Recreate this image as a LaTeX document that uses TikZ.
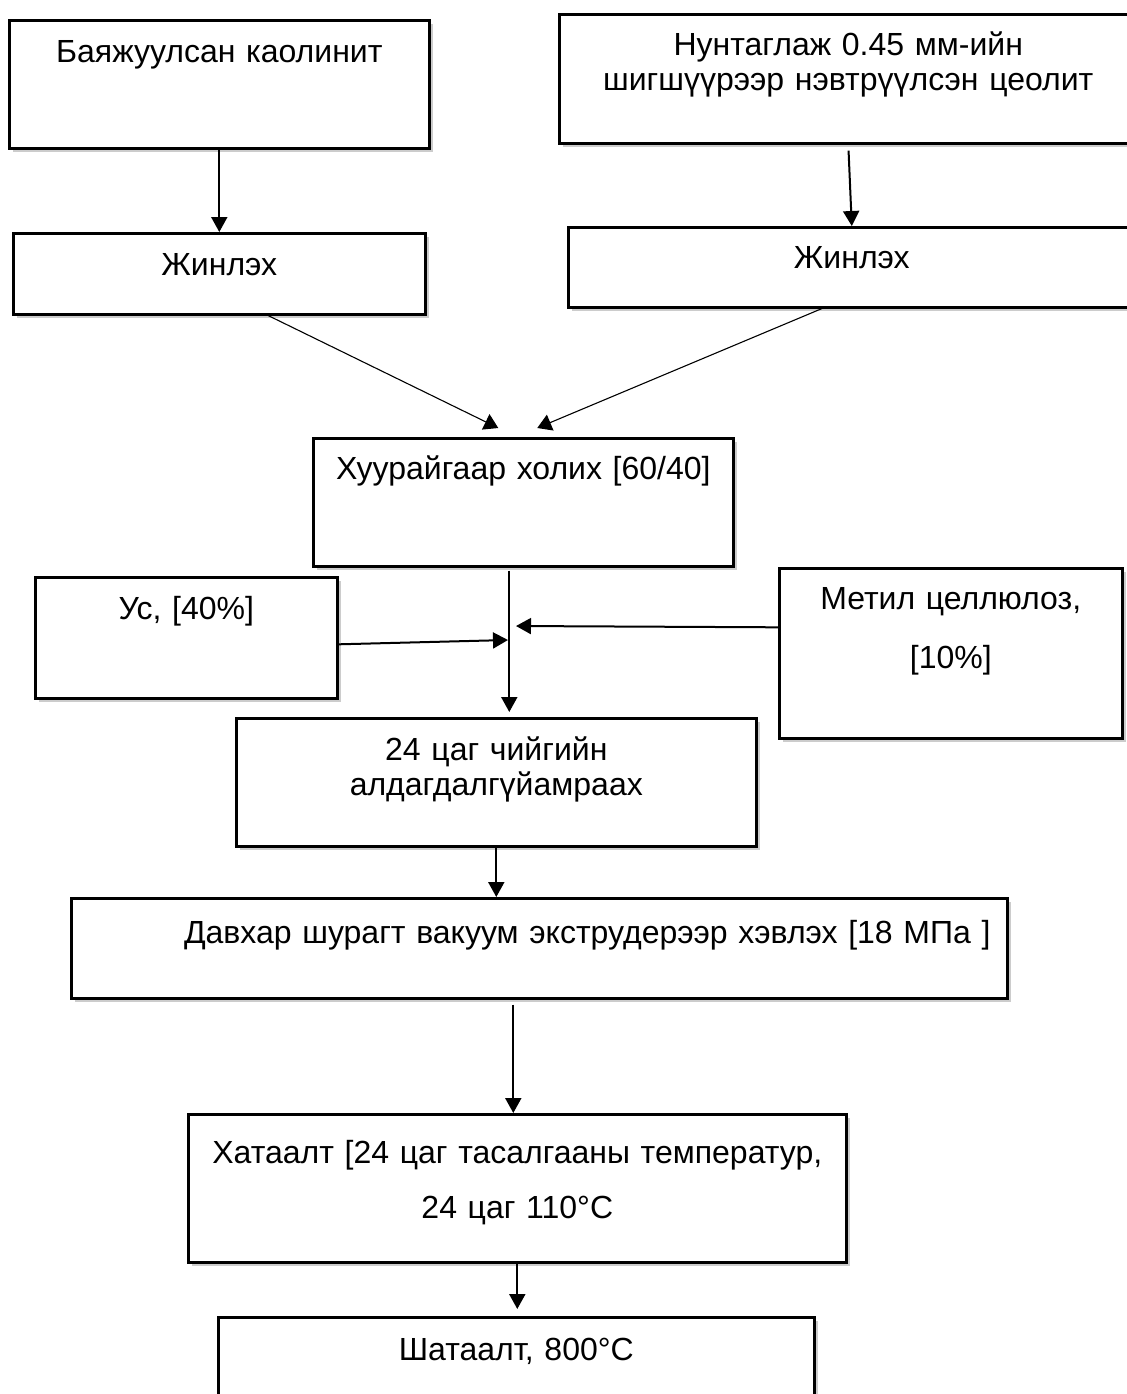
\documentclass[tikz,border=0pt]{standalone}
\usepackage{fontspec}
\setmainfont{Liberation Sans}
\usetikzlibrary{arrows.meta,shadows}
\tikzset{
  box/.style={draw, line width=1.3pt, fill=white, anchor=north west, inner sep=0pt,
    align=center, font=\fontsize{16pt}{17.5pt}\selectfont,
    drop shadow={shadow xshift=2pt, shadow yshift=-2pt, fill=black!40}},
  arr/.style={-{Triangle[length=7.5pt,width=8pt]}, line width=1pt},
  arrthin/.style={-{Triangle[length=7pt,width=8.5pt]}, line width=0.55pt},
}
\begin{document}
\begin{tikzpicture}[x=0.5pt,y=-0.5pt]
\useasboundingbox (0,0) rectangle (1126,1394);
% boxes
\node[box, text width=210pt, text height=21pt, text depth=43pt] (b1) at (8,19) {Баяжуулсан каолинит};
\node[box, text width=206pt, text height=21pt, text depth=19.5pt] (b2) at (12,232) {Жинлэх};
\node[box, text width=289pt, text height=20.5pt, text depth=44pt] (b3) at (558,13) {Нунтаглаж 0.45 мм-ийн\\шигшүүрээр нэвтрүүлсэн цеолит};
\node[box, text width=283.5pt, text height=20.5pt, text depth=19.5pt] (b4) at (567,226) {Жинлэх};
\node[box, text width=210pt, text height=20.5pt, text depth=43.5pt] (b5) at (312,437) {Хуурайгаар холих [60/40]};
\node[box, text width=151pt, text height=21pt, text depth=39.5pt] (us) at (34,576) {Ус, [40\%]};
\node[box, text width=171.5pt, text height=20.5pt, text depth=64.5pt] (met) at (778,567) {Метил целлюлоз,\\[12pt]{[10\%]}};
\node[box, text width=260pt, text height=21pt, text depth=43pt] (b7) at (235,717) {24 цаг чийгийн\\алдагдалгүйамраах};
\node[box, text width=468pt, text height=22.5pt, text depth=27.5pt] (b8) at (70,897) {\hspace*{48pt}Давхар шурагт вакуум экструдерээр хэвлэх [18 МПа ]};
\node[box, text width=329pt, text height=24.5pt, text depth=49.5pt] (b9) at (187,1113) {Хатаалт [24 цаг тасалгааны температур,\\[10pt]24 цаг 110°C};
\node[box, text width=298pt, text height=21.5pt, text depth=20.5pt] (b10) at (217,1316) {Шатаалт, 800°C};
% connectors
\draw[arr] (b1.south) -- (b2.north);
\draw[arr, shorten <=3pt] (b3.south) -- (b4.north);
\draw[arrthin] ([xshift=24.5pt]b2.south) -- ([xshift=-12.5pt,yshift=4.5pt]b5.north);
\draw[arrthin] ([xshift=-15pt]b4.south) -- ([xshift=7pt,yshift=4.5pt]b5.north);
\coordinate (m1) at ([xshift=-7pt]b5.south);
\coordinate (m2) at (m1 |- b7.north);
\draw[arr, shorten <=1.5pt, shorten >=2.5pt] (m1) -- (m2);
\coordinate (wj) at (508,640);
\coordinate (mj) at (516,626);
\draw[arr] ([yshift=-3.25pt]us.east) -- (wj);
\draw[arr] ([yshift=13pt]met.west) -- (mj);
\coordinate (c78) at (b7.south |- b8.north);
\draw[arr] (b7.south) -- (c78);
\coordinate (c89) at ([xshift=-2pt]b9.north);
\coordinate (c89s) at (c89 |- b8.south);
\draw[arr, shorten <=2.5pt] (c89s) -- (c89);
\coordinate (c910) at (b9.south |- b10.north);
\draw[arr, shorten >=3.5pt] (b9.south) -- (c910);
\end{tikzpicture}
\end{document}
